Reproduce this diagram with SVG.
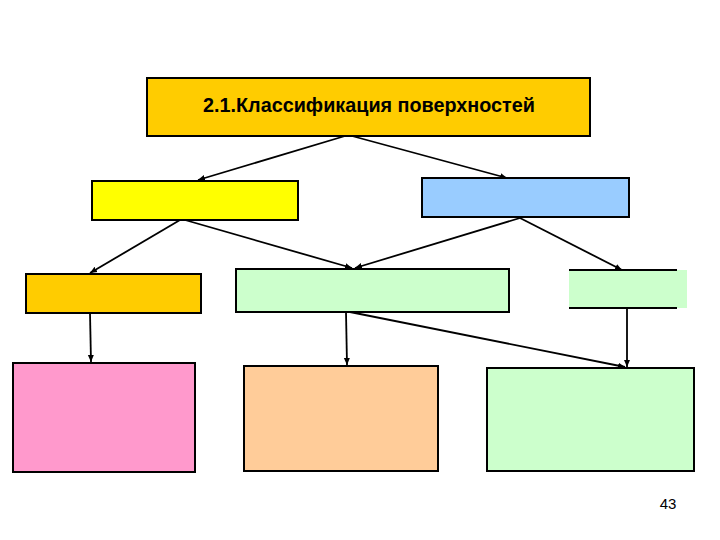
<svg xmlns="http://www.w3.org/2000/svg" width="720" height="540" viewBox="0 0 720 540">
<style>
.b{stroke:#000;stroke-width:2}
.c line{stroke:#000;stroke-width:1.8;marker-end:url(#ah)}
</style>
<defs>
<marker id="ah" markerWidth="8" markerHeight="8" refX="7" refY="4" orient="auto" markerUnits="userSpaceOnUse">
<path d="M0,1 L7,4 L0,7 Z" fill="#000"/>
</marker>
</defs>
<rect width="720" height="540" fill="#fff"/>
<g id="n-top"><rect class="b" x="147" y="78" width="443" height="58" fill="#FFCC00"/>
<text x="369" y="112" font-family="Liberation Sans, Arial, sans-serif" font-size="19.8" font-weight="bold" text-anchor="middle">2.1.Классификация поверхностей</text></g>
<g id="n-yellow"><rect class="b" x="92" y="181" width="206" height="39" fill="#FFFF00"/></g>
<g id="n-blue"><rect class="b" x="422" y="178" width="207" height="39" fill="#99CCFF"/></g>
<g id="n-orange"><rect class="b" x="26" y="274" width="175" height="39" fill="#FFCC00"/></g>
<g id="n-green-mid"><rect class="b" x="236" y="269" width="273" height="43" fill="#CCFFCC"/></g>
<g id="n-green-right"><rect x="569" y="270" width="118" height="38" fill="#CCFFCC"/>
<line class="b" x1="569" y1="270" x2="677" y2="270"/><line class="b" x1="569" y1="308" x2="677" y2="308"/></g>
<g id="n-pink"><rect class="b" x="13" y="363" width="182" height="109" fill="#FF99CC"/></g>
<g id="n-peach"><rect class="b" x="244" y="366" width="194" height="105" fill="#FFCC99"/></g>
<g id="n-green-bottom"><rect class="b" x="487" y="368" width="207" height="103" fill="#CCFFCC"/></g>
<g class="c" id="connectors">
<line x1="345" y1="136" x2="198" y2="180"/>
<line x1="352" y1="136" x2="507" y2="178"/>
<line x1="180" y1="220" x2="90" y2="273"/>
<line x1="185" y1="220" x2="352" y2="268"/>
<line x1="520" y1="218" x2="355" y2="268"/>
<line x1="520" y1="218" x2="622" y2="270"/>
<line x1="90" y1="313" x2="91" y2="362"/>
<line x1="346" y1="312" x2="347" y2="365"/>
<line x1="350" y1="312" x2="625" y2="367"/>
<line x1="627" y1="308" x2="627" y2="367"/>
</g>
<text x="668" y="509" font-family="Liberation Sans Narrow, Liberation Sans, Arial, sans-serif" font-size="15" text-anchor="middle">43</text>
</svg>
